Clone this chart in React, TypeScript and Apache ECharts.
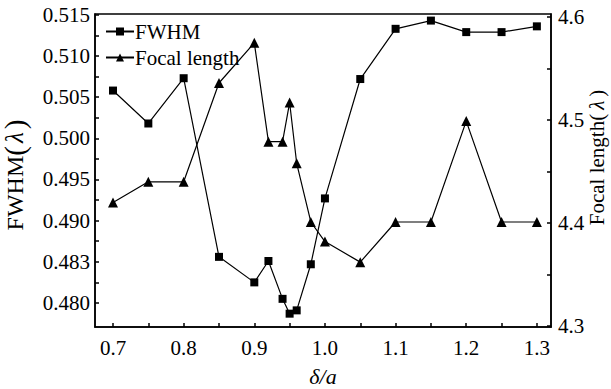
import React, { useEffect, useRef } from "react";
import * as echarts from "echarts";

const xValues = [0.7, 0.75, 0.8, 0.85, 0.9, 0.92, 0.94, 0.95, 0.96, 0.98, 1.0, 1.05, 1.1, 1.15, 1.2, 1.25, 1.3];
const fwhm = [0.5058, 0.5018, 0.5073, 0.4856, 0.4825, 0.4851, 0.4805, 0.4787, 0.4791, 0.4847, 0.4927, 0.5072, 0.5133, 0.5143, 0.5129, 0.5129, 0.5136];
const focal = [4.42, 4.44, 4.44, 4.536, 4.575, 4.479, 4.479, 4.517, 4.458, 4.401, 4.382, 4.362, 4.401, 4.401, 4.499, 4.401, 4.401];

const xTickLabels = [0.7, 0.8, 0.9, 1.0, 1.1, 1.2, 1.3];
const xTicks = [0.7, 0.75, 0.8, 0.85, 0.9, 0.95, 1.0, 1.05, 1.1, 1.15, 1.2, 1.25, 1.3];
const leftTickLabels = [0.48, 0.485, 0.49, 0.495, 0.5, 0.505, 0.51, 0.515];
const leftLabelText = ["0.480", "0.483", "0.490", "0.495", "0.500", "0.505", "0.510", "0.515"];
const leftTicks = [0.48, 0.4825, 0.485, 0.4875, 0.49, 0.4925, 0.495, 0.4975, 0.5, 0.5025, 0.505, 0.5075, 0.51, 0.5125, 0.515];
const rightTickLabels = [4.3, 4.4, 4.5, 4.6];
const rightTicks = [4.3, 4.35, 4.4, 4.45, 4.5, 4.55, 4.6];

const FONT = "'Liberation Serif', 'Times New Roman', serif";
const FS = 21;

export default function App() {
  const ref = useRef<HTMLDivElement>(null);
  useEffect(() => {
    if (!ref.current) return;
    const chart = echarts.init(ref.current, null, { renderer: "svg" });
    const axisLine = { show: true, lineStyle: { color: "#000", width: 1.5 } };
    const tick = (vals: number[]) => ({ show: true, inside: true, length: 4, customValues: vals, lineStyle: { color: "#000", width: 1.5 } });
    const labelStyle = { color: "#000", fontSize: FS, fontFamily: FONT };
    const richFor = (base: number, paren: number, pad: number) => ({
      p: { fontSize: paren, fontFamily: FONT, color: "#000" },
      i: { fontStyle: "italic", fontSize: base, fontFamily: FONT, color: "#000", padding: [0, pad] },
    });
    chart.setOption({
      animation: false,
      backgroundColor: "#fff",
      grid: {
        left: 95,
        right: 60,
        top: 14,
        bottom: 62,
        show: true,
        borderColor: "#000",
        borderWidth: 1.5,
        containLabel: false,
        outerBoundsMode: "none",
      },
      legend: {
        show: true,
        orient: "vertical",
        left: 100,
        top: 16,
        itemWidth: 28,
        itemHeight: 10,
        itemGap: 5,
        textStyle: { color: "#000", fontSize: FS, fontFamily: FONT, padding: [0, 0, 0, -4] },
        data: ["FWHM", "Focal length"],
      },
      xAxis: {
        type: "value",
        min: 0.6745,
        max: 1.32,
        name: "δ/a",
        nameLocation: "middle",
        nameGap: 38,
        nameMoveOverlap: false,
        nameTextStyle: { color: "#000", fontSize: 22, fontFamily: FONT, fontStyle: "italic" },
        axisLine,
        axisTick: tick(xTicks),
        splitLine: { show: false },
        axisLabel: { ...labelStyle, margin: 10, customValues: xTickLabels, formatter: (v: number) => v.toFixed(1) },
      },
      yAxis: [
        {
          type: "value",
          position: "left",
          min: 0.47708,
          max: 0.5151,
          name: "FWHM{p|(}{i|λ}{p|)}",
          nameLocation: "middle",
          nameRotate: 90,
          nameGap: 66,
          nameMoveOverlap: false,
          nameTextStyle: { color: "#000", fontSize: 24, fontFamily: FONT, padding: [0, 9, 0, 0], rich: richFor(25, 29, 3) },
          axisLine,
          axisTick: tick(leftTicks),
          splitLine: { show: false },
          axisLabel: {
            ...labelStyle,
            margin: 5,
            customValues: leftTickLabels,
            formatter: (v: number) => {
              const i = leftTickLabels.findIndex((t) => Math.abs(t - v) < 1e-6);
              return i >= 0 ? leftLabelText[i] : "";
            },
          },
        },
        {
          type: "value",
          position: "right",
          min: 4.299,
          max: 4.603,
          name: "Focal length{p|(}{i|λ}{p|)}",
          nameLocation: "middle",
          nameRotate: 90,
          nameGap: 35,
          nameMoveOverlap: false,
          nameTextStyle: { color: "#000", fontSize: 21, fontFamily: FONT, padding: [0, 0, 0, 26], rich: richFor(21, 21, 4) },
          axisLine,
          axisTick: tick(rightTicks),
          splitLine: { show: false },
          axisLabel: { ...labelStyle, margin: 7, customValues: rightTickLabels, formatter: (v: number) => v.toFixed(1) },
        },
      ],
      series: [
        {
          name: "FWHM",
          type: "line",
          yAxisIndex: 0,
          data: xValues.map((x, i) => [x, fwhm[i]]),
          symbol: "rect",
          symbolSize: 8,
          itemStyle: { color: "#000" },
          lineStyle: { color: "#000", width: 1.2 },
        },
        {
          name: "Focal length",
          type: "line",
          yAxisIndex: 1,
          data: xValues.map((x, i) => [x, focal[i]]),
          symbol: "triangle",
          symbolSize: 10,
          itemStyle: { color: "#000" },
          lineStyle: { color: "#000", width: 1.2 },
        },
      ],
    });
    return () => chart.dispose();
  }, []);
  return <div ref={ref} style={{ position: "absolute", left: 0, top: 0, width: 611, height: 389 }} />;
}
